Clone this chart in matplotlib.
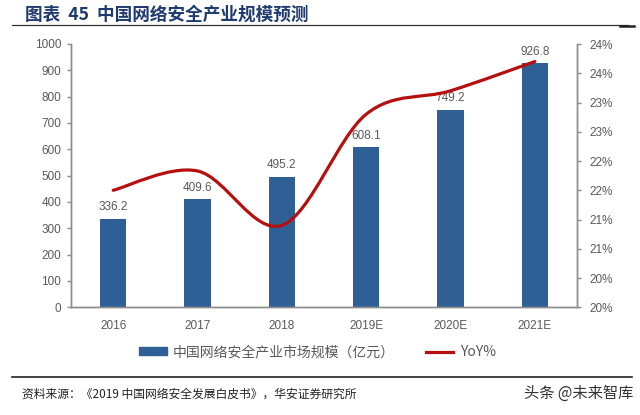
import matplotlib
matplotlib.use("Agg")
import matplotlib.pyplot as plt
from matplotlib.path import Path
from matplotlib.patches import PathPatch, Patch
from matplotlib.lines import Line2D

plt.rcParams['font.family'] = ['Noto Sans CJK SC', 'DejaVu Sans']

years = ['2016', '2017', '2018', '2019E', '2020E', '2021E']
market = [336.2, 409.6, 495.2, 608.1, 749.2, 926.8]
yoy = [21.5, 21.83, 20.90, 22.80, 23.20, 23.70]
left_ticks = [0, 100, 200, 300, 400, 500, 600, 700, 800, 900, 1000]
right_ticks = [19.5, 20.0, 20.5, 21.0, 21.5, 22.0, 22.5, 23.0, 23.5, 24.0]
right_labels = ['20%', '20%', '21%', '21%', '22%', '22%', '23%', '23%', '24%', '24%']

bar_color = '#2E6096'
line_color = '#B50F0F'
gray = '#595959'
axis_gray = '#8C8C8C'

fig = plt.figure(figsize=(6.4, 4.15), dpi=100)
ax = fig.add_axes([71 / 640, 1 - 307.3 / 415, (577 - 71) / 640, (307.3 - 44) / 415])
ax2 = ax.twinx()

x = list(range(len(years)))
ax.bar(x, market, width=0.315, color=bar_color, zorder=2)
for xi, v in zip(x, market):
    ax.annotate(f'{v:.1f}', (xi, v), xytext=(0, 4), textcoords='offset points',
                ha='center', va='bottom', fontsize=8.5, color=gray,
                family=['Liberation Sans'], zorder=3)

ax.set_xlim(-0.5, len(years) - 0.5)
ax.set_ylim(0, 1000)
ax.set_yticks(left_ticks)
ax.set_xticks(x)
ax.set_xticklabels(years)

# smooth line (Excel-style) built as bezier path from the data points
pts = list(zip(x, yoy))
verts = [pts[0]]
codes = [Path.MOVETO]
n = len(pts)
for i in range(n - 1):
    p0 = pts[i - 1] if i > 0 else pts[i]
    p1 = pts[i]
    p2 = pts[i + 1]
    p3 = pts[i + 2] if i + 2 < n else pts[i + 1]
    c1 = (p1[0] + (p2[0] - p0[0]) / 6, p1[1] + (p2[1] - p0[1]) / 6)
    c2 = (p2[0] - (p3[0] - p1[0]) / 6, p2[1] - (p3[1] - p1[1]) / 6)
    verts += [c1, c2, p2]
    codes += [Path.CURVE4] * 3
ax2.add_patch(PathPatch(Path(verts, codes), facecolor='none', edgecolor=line_color,
                        lw=2.3, capstyle='round', zorder=4))
ax2.set_ylim(19.5, 24.0)
ax2.set_yticks(right_ticks)
ax2.set_yticklabels(right_labels)

for a in (ax, ax2):
    a.spines['top'].set_visible(False)
    for s in ('left', 'right', 'bottom'):
        a.spines[s].set_color(axis_gray)
        a.spines[s].set_linewidth(1.0)
    a.tick_params(axis='y', colors=axis_gray, labelcolor=gray, labelsize=8.5,
                  length=3, width=1, direction='out')
    for lab in a.get_yticklabels():
        lab.set_family(['Liberation Sans'])
ax.tick_params(axis='x', length=0, labelcolor=gray, labelsize=8.5, pad=9)
for lab in ax.get_xticklabels():
    lab.set_family(['Liberation Sans'])
ax.tick_params(axis='y', pad=4)
ax2.tick_params(axis='y', pad=6)
ax.set_zorder(1)
ax2.set_zorder(2)
ax.patch.set_visible(False)

handles = [Patch(color=bar_color), Line2D([0], [0], color=line_color, lw=2.3)]
fig.legend(handles, ['中国网络安全产业市场规模（亿元）', 'YoY%'], loc='center',
           bbox_to_anchor=(0.496, 1 - 352 / 415), ncol=2, frameon=False,
           fontsize=10, handlelength=2.0, handleheight=0.5, handletextpad=0.45,
           columnspacing=2.2, labelcolor=gray)

fig.text(25 / 640, 1 - 15 / 415, '图表  45  中国网络安全产业规模预测', fontsize=12.7,
         fontweight='bold', color='#1F3A6E', va='center', ha='left')
fig.add_artist(Line2D([12 / 640, 628 / 640], [1 - 25.5 / 415] * 2, color='#333333', lw=0.9))
fig.add_artist(Line2D([620 / 640, 634 / 640], [1 - 26 / 415] * 2, color='#222222', lw=1.8))
fig.add_artist(Line2D([12 / 640, 632 / 640], [1 - 377 / 415] * 2, color='#222222', lw=1.2))
fig.text(22 / 640, 1 - 394 / 415, '资料来源：《2019 中国网络安全发展白皮书》，华安证券研究所',
         fontsize=8.5, color='#222222', va='center', ha='left')
fig.text(633 / 640, 1 - 393 / 415, '头条 @未来智库', fontsize=11, color='#333333',
         va='center', ha='right')

fig.savefig('out.png', dpi=100)
